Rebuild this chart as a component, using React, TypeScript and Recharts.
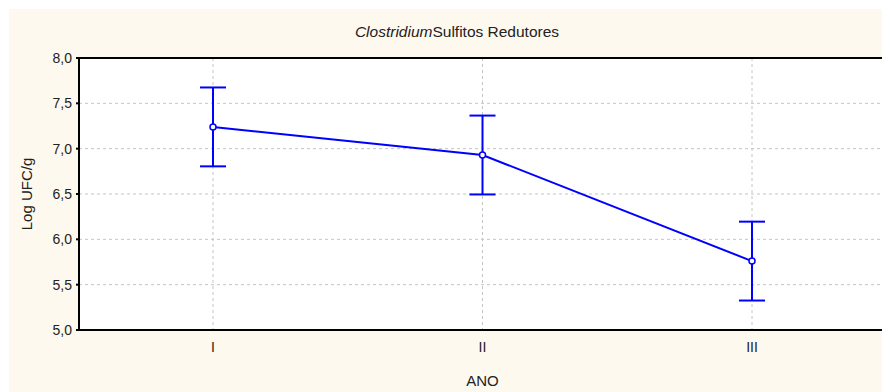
import React from 'react'
import { ComposedChart, Line, XAxis, YAxis, CartesianGrid, ErrorBar } from 'recharts'

const categories = ['I', 'II', 'III']
const means = [7.24, 6.93, 5.76]
const errors = [0.435, 0.435, 0.435]
const yTicks = [5.0, 5.5, 6.0, 6.5, 7.0, 7.5, 8.0]

const data = categories.map((ano, i) => ({ ano, mean: means[i], err: errors[i] }))

const BLUE = '#0000ff'
const font = '"Liberation Sans", Arial, sans-serif'
const PAD = { left: 134, right: 134 }

const fmt = (v: number) => v.toFixed(1).replace('.', ',')

const Dot = (props: any) => {
  const { cx, cy } = props
  return <circle cx={cx} cy={cy} r={3} fill="#fff" stroke={BLUE} strokeWidth={1.5} />
}

export default function App() {
  return (
    <div
      style={{
        position: 'relative',
        width: 882,
        height: 383,
        background: '#fef9ef',
        borderTop: '1px solid #fff',
        borderLeft: '1px solid #fff',
        fontFamily: font,
      }}
    >
      <div
        style={{
          position: 'absolute',
          left: 0,
          width: 896,
          top: 14,
          textAlign: 'center',
          fontSize: 15.5,
          color: '#222',
        }}
      >
        <i>Clostridium</i>Sulfitos Redutores
      </div>
      <ComposedChart
        width={881}
        height={383}
        data={data}
        margin={{ top: 49, right: 4, bottom: 0, left: 0 }}
        style={{ position: 'absolute', left: 0, top: 0 }}
      >
        <CartesianGrid strokeDasharray="3 3" stroke="#c4c4c4" fill="#fff" />
        <XAxis
          dataKey="ano"
          height={62}
          padding={PAD}
          stroke="#000"
          strokeWidth={2}
          tickLine={false}
          tickMargin={6}
          tick={{ fill: '#222', fontSize: 14, fontFamily: font }}
          label={{ value: 'ANO', position: 'insideBottom', offset: 6, fill: '#222', fontSize: 15, fontFamily: font }}
        />
        <XAxis
          xAxisId="top"
          dataKey="ano"
          orientation="top"
          height={1}
          padding={PAD}
          mirror
          stroke="#000"
          strokeWidth={2}
          tickSize={3}
          tick={false}
        />
        <YAxis
          type="number"
          domain={[5, 8]}
          ticks={yTicks}
          width={70}
          stroke="#000"
          strokeWidth={2}
          tickSize={3}
          tickMargin={4}
          tickFormatter={fmt}
          tick={{ fill: '#222', fontSize: 14, fontFamily: font }}
          label={{ value: 'Log UFC/g', angle: -90, position: 'insideLeft', offset: 18, fill: '#222', fontSize: 15, fontFamily: font, style: { textAnchor: 'middle' } }}
        />
        <Line
          xAxisId="top"
          dataKey="mean"
          stroke="none"
          dot={false}
          activeDot={false}
          isAnimationActive={false}
        />
        <Line
          dataKey="mean"
          stroke={BLUE}
          strokeWidth={2}
          dot={<Dot />}
          activeDot={false}
          isAnimationActive={false}
        >
          <ErrorBar dataKey="err" direction="y" width={13} stroke={BLUE} strokeWidth={2} isAnimationActive={false} />
        </Line>
      </ComposedChart>
      {/* right-hand frame edge of the plot box */}
      <div
        style={{
          position: 'absolute',
          left: 876,
          top: 49,
          width: 2,
          height: 273,
          background: '#000',
          pointerEvents: 'none',
        }}
      />
    </div>
  )
}
